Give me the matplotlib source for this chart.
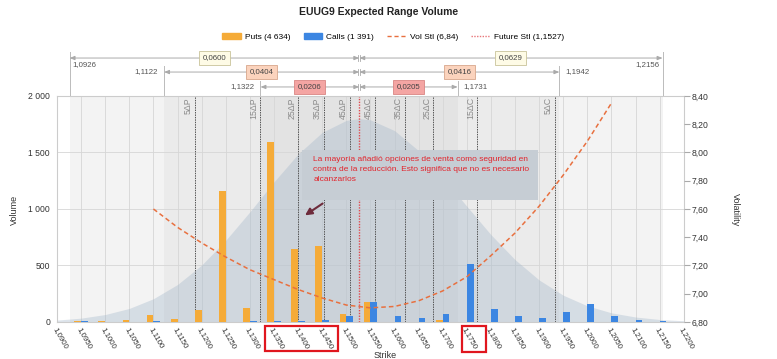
import matplotlib
matplotlib.use('Agg')
import matplotlib.pyplot as plt
import matplotlib.transforms as mtransforms
from matplotlib.patches import Rectangle, Patch
from matplotlib.lines import Line2D

plt.rcParams['font.family'] = ['Liberation Sans', 'DejaVu Sans']

# strikes and volumes
strikes = [1.090, 1.095, 1.100, 1.105, 1.110, 1.115, 1.120, 1.125, 1.130,
           1.135, 1.140, 1.145, 1.150, 1.155, 1.160, 1.165, 1.170, 1.175,
           1.180, 1.185, 1.190, 1.195, 1.200, 1.205, 1.210, 1.215, 1.220]
puts = [0, 8, 10, 15, 65, 27, 103, 1160, 127, 1590, 650, 670, 74, 180, 3,
        0, 15, 0, 0, 0, 3, 3, 3, 0, 0, 0, 0]
calls = [0, 5, 0, 0, 5, 0, 0, 0, 5, 5, 5, 15, 53, 174, 56, 32, 68, 513, 115,
         56, 35, 88, 156, 56, 18, 9, 0]

# volatility smile
vol_strikes = [1.110, 1.115, 1.120, 1.125, 1.130, 1.135, 1.140, 1.145, 1.150,
               1.155, 1.160, 1.165, 1.170, 1.175, 1.180, 1.185, 1.190, 1.195,
               1.200, 1.205]
vol_values = [7.60, 7.47, 7.36, 7.26, 7.17, 7.10, 7.03, 6.97, 6.92, 6.90,
              6.91, 6.95, 7.02, 7.12, 7.27, 7.43, 7.62, 7.84, 8.08, 8.35]

# expected distribution (in volume units)
bell_strikes = [1.090, 1.095, 1.100, 1.105, 1.110, 1.115, 1.120, 1.125, 1.130,
                1.135, 1.140, 1.145, 1.150, 1.1527, 1.155, 1.160, 1.165, 1.170,
                1.175, 1.180, 1.185, 1.190, 1.195, 1.200, 1.205, 1.210, 1.215,
                1.220]
bell_values = [17, 34, 66, 120, 206, 332, 504, 723, 975, 1240, 1486, 1678,
               1784, 1800, 1789, 1694, 1516, 1282, 1024, 773, 552, 372, 237,
               143, 81, 44, 22, 11]

future = 1.1527
delta_labels = ['5ΔP', '15ΔP', '25ΔP', '35ΔP', '45ΔP',
                '45ΔC', '35ΔC', '25ΔC', '15ΔC', '5ΔC']
delta_strikes = [1.1186, 1.1321, 1.1400, 1.1454, 1.1508,
                 1.1560, 1.1622, 1.1680, 1.1771, 1.1933]

range_lo = [1.0926, 1.1122, 1.1322]
range_hi = [1.2156, 1.1942, 1.1731]
range_lo_lbl = ['0,0600', '0,0404', '0,0206']
range_hi_lbl = ['0,0629', '0,0416', '0,0205']

fmt = lambda v: f'{v:.4f}'.replace('.', ',')

fig = plt.figure(figsize=(7.77, 3.59), dpi=100)
ax = fig.add_axes([0.0734, 0.1031, 0.8066, 0.6295])

# background bands
ax.axvspan(range_lo[0], range_hi[0], color='#f3f3f3', zorder=0, lw=0)
ax.axvspan(range_lo[1], range_hi[1], color='#ebebeb', zorder=0, lw=0)
ax.axvspan(range_lo[2], range_hi[2], color='#e3e3e3', zorder=0, lw=0)

ax.set_xlim(1.09, 1.22)
ax.set_ylim(0, 2000)
ax.set_xticks(strikes)
ax.set_xticklabels([fmt(s) for s in strikes], rotation=-60, ha='left',
                   va='top', rotation_mode='anchor', fontsize=5.7, color='#333333')
ax.set_yticks([0, 500, 1000, 1500, 2000])
ax.set_yticklabels(['0', '500', '1 000', '1 500', '2 000'], fontsize=6.2, color='#333333')
ax.tick_params(axis='both', length=0)
ax.tick_params(axis='x', pad=3)
ax.tick_params(axis='y', pad=5)
ax.grid(True, color='#d6d6d6', lw=0.6, zorder=0.5)
ax.set_axisbelow(True)
for sp in ax.spines.values():
    sp.set_color('#cccccc')
    sp.set_linewidth(0.8)

ax.fill_between(bell_strikes, bell_values, color='#9fb4c8', alpha=0.35, lw=0, zorder=1)

w = 0.0014
ax.bar([s - w / 2 for s in strikes], puts, width=w, color='#f5ab38', zorder=3)
ax.bar([s + w / 2 for s in strikes], calls, width=w, color='#3c86e2', zorder=3)

for s, lbl in zip(delta_strikes, delta_labels):
    ax.axvline(s, color='#555555', ls=(0, (1.5, 1)), lw=0.7, zorder=2)
    ax.text(s - 0.0004, 1990, lbl, rotation=90, ha='right', va='top',
            fontsize=6.3, color='#8a8a8a', zorder=2)
ax.axvline(future, color='#e04a4f', ls=(0, (1, 1)), lw=1, zorder=2)

# expected range rows above the plot
trans = mtransforms.blended_transform_factory(ax.transData, ax.transAxes)
rows_y = [1.168, 1.106, 1.040]
box_fc = ['#fefbe6', '#fbd3bd', '#f4a5a3']
box_ec = ['#c9c39a', '#d8a78c', '#d98684']
for i, y in enumerate(rows_y):
    lo, hi = range_lo[i], range_hi[i]
    for a, b in [(future, lo), (future, hi)]:
        ax.annotate('', xy=(b, y), xytext=(a, y), xycoords=trans, textcoords=trans,
                    arrowprops=dict(arrowstyle='<|-|>,head_length=0.3,head_width=0.12',
                                    color='#aaaaaa', lw=0.7, shrinkA=0, shrinkB=0),
                    annotation_clip=False)
    for e in (lo, hi):
        ax.plot([e, e], [1.0, y + 0.025], transform=trans, clip_on=False,
                color='#bbbbbb', lw=0.7)
    ax.plot([future - 0.0002, future - 0.0002], [y - 0.012, y + 0.012],
            transform=trans, clip_on=False, color='#aaaaaa', lw=0.6)
    ax.plot([future + 0.0002, future + 0.0002], [y - 0.012, y + 0.012],
            transform=trans, clip_on=False, color='#aaaaaa', lw=0.6)
    if i == 0:
        ax.text(lo + 0.0006, y - 0.012, fmt(lo), transform=trans, ha='left',
                va='top', fontsize=5.7, color='#555555')
        ax.text(hi - 0.0006, y - 0.012, fmt(hi), transform=trans, ha='right',
                va='top', fontsize=5.7, color='#555555')
    else:
        ax.text(lo - 0.0012, y, fmt(lo), transform=trans, ha='right',
                va='center', fontsize=5.7, color='#555555')
        ax.text(hi + 0.0012, y, fmt(hi), transform=trans, ha='left',
                va='center', fontsize=5.7, color='#555555')
    ax.text((lo + future) / 2, y, range_lo_lbl[i], transform=trans, ha='center',
            va='center', fontsize=5.7, color='#444444',
            bbox=dict(boxstyle='square,pad=0.45', fc=box_fc[i], ec=box_ec[i], lw=0.6))
    ax.text((hi + future) / 2, y, range_hi_lbl[i], transform=trans, ha='center',
            va='center', fontsize=5.7, color='#444444',
            bbox=dict(boxstyle='square,pad=0.45', fc=box_fc[i], ec=box_ec[i], lw=0.6))

# volatility axis
ax2 = ax.twinx()
ax2.set_ylim(6.8, 8.4)
ax2.set_yticks([6.8, 7.0, 7.2, 7.4, 7.6, 7.8, 8.0, 8.2, 8.4])
ax2.set_yticklabels(['6,80', '7,00', '7,20', '7,40', '7,60', '7,80', '8,00',
                     '8,20', '8,40'], fontsize=6.2, color='#333333')
ax2.tick_params(axis='y', length=4, color='#aaaaaa', pad=2)
for sp in ax2.spines.values():
    sp.set_visible(False)
ax2.plot(vol_strikes, vol_values, ls=(0, (3, 2)), color='#e8703f', lw=1.1, zorder=4)

# comment box
ax2.add_patch(Rectangle((0.391, 0.540), 0.376, 0.221, transform=ax2.transAxes,
                        fc='#c6cdd4', ec='none', zorder=10))
ax2.text(0.409, 0.735,
         'La mayoría añadió opciones de venta como seguridad en\n'
         'contra de la reducción. Esto significa que no es necesario\n'
         'alcanzarlos',
         transform=ax2.transAxes, ha='left', va='top', fontsize=6,
         color='#e2242c', linespacing=1.6, zorder=11)
ax2.annotate('', xy=(0.392, 0.465), xytext=(0.4274, 0.531), xycoords='axes fraction',
             arrowprops=dict(arrowstyle='-|>,head_length=0.4,head_width=0.2',
                             color='#6e2c3c', lw=1.5), zorder=11)

# legend and titles
handles = [Patch(color='#f5ab38'), Patch(color='#3c86e2'),
           Line2D([], [], color='#e8703f', ls=(0, (3, 2)), lw=1),
           Line2D([], [], color='#e8767a', ls=(0, (1, 1)), lw=1)]
labels = ['Puts (4 634)', 'Calls (1 391)', 'Vol Stl (6,84)', 'Future Stl (1,1527)']
fig.legend(handles, labels, loc='center', bbox_to_anchor=(0.506, 1 - 37 / 359),
           ncol=4, frameon=False, fontsize=6, handlelength=2.2, handleheight=0.8,
           columnspacing=1.6, handletextpad=0.5)
fig.text(0.487, 1 - 12 / 359, 'EUUG9 Expected Range Volume', ha='center',
         va='center', fontsize=7.5, weight='bold', color='#222222')
fig.text(14 / 777, 1 - 210 / 359, 'Volume', rotation=90, ha='center',
         va='center', fontsize=6.5, color='#333333')
fig.text(735 / 777, 1 - 210 / 359, 'Volatility', rotation=-90, ha='center',
         va='center', fontsize=6.5, color='#333333')
fig.text(385 / 777, 1 - 351 / 359, 'Strike', ha='center', va='top',
         fontsize=6.5, color='#333333')

# highlight boxes around strikes
fig.add_artist(Rectangle((0.341, 0.0223), 0.094, 0.0696, transform=fig.transFigure,
                         fill=False, ec='#e0161e', lw=1.6))
fig.add_artist(Rectangle((0.5946, 0.0195), 0.0309, 0.0724, transform=fig.transFigure,
                         fill=False, ec='#e0161e', lw=1.6))

fig.savefig('out.png', dpi=100)
